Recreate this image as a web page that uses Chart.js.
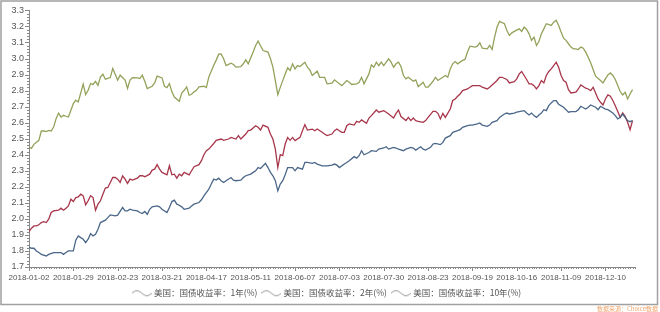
<!DOCTYPE html>
<html>
<head>
<meta charset="utf-8">
<script src="https://cdn.jsdelivr.net/npm/chart.js@4/dist/chart.umd.min.js"></script>
<style>
  html, body { margin: 0; padding: 0; background: #fff; }
  #wrap { position: relative; width: 660px; height: 312px; }
  #source { position: absolute; left: 597px; top: 304px; font: 6px "Noto Sans CJK SC", sans-serif; color: #f2a46a; white-space: nowrap; }
</style>
</head>
<body>
<div id="wrap">
  <canvas id="yieldChart" width="660" height="312"></canvas>
  <div id="source">数据来源：Choice数据</div>
</div>
<script>
// trading-day index (0 = 2018-01-02), one label every 18 days
const tickLabels = ["2018-01-02", "2018-01-29", "2018-02-23", "2018-03-21", "2018-04-17", "2018-05-11", "2018-06-07",
  "2018-07-03", "2018-07-30", "2018-08-23", "2018-09-19", "2018-10-16", "2018-11-09", "2018-12-10"];
const lastDay = 246;

const seriesNames = ["美国：国债收益率：1年(%)", "美国：国债收益率：2年(%)", "美国：国债收益率：10年(%)"];

// 1 year
const days1y = [0,1,2,3,4,5,7,8,10,11,13,14,15,16,18,19,20,21,22,23,24,25,26,27,28,29,31,32,33,35,36,38,39,40,41,42,44,45,46,47,48,49,50,52,53,54,56,57,58,59,60,61,62,63,65,66,67,69,70,71,73,74,75,76,77,78,79,80,82,83,84,86,87,88,90,91,92,93,94,96,97,98,99,100,101,102,103,104,105,107,108,109,111,112,113,115,116,117,119,120,121,123,124,125,126,128,129,130,132,133,134,135,136,138,139,141,142,144,145,146,148,149,150,152,153,155,156,157,159,160,161,163,164,165,167,168,169,171,172,174,175,176,178,179,180,182,183,184,186,187,188,190,191,193,194,195,197,198,199,201,202,203,204,205,206,207,208,209,210,211,212,213,214,215,217,218,219,220,222,223,224,226,227,228,230,231,232,234,235,237,238,239,240,241,242,243,244,245];
const yield1y = [1.825,1.817,1.817,1.80,1.79,1.779,1.769,1.779,1.79,1.79,1.79,1.779,1.79,1.80,1.80,1.867,1.894,1.883,1.873,1.852,1.873,1.908,1.894,1.904,1.935,1.977,1.992,2.008,2.025,2.019,2.023,2.071,2.05,2.05,2.06,2.054,2.05,2.04,2.033,2.046,2.029,2.06,2.075,2.081,2.075,2.06,2.04,2.071,2.108,2.117,2.092,2.085,2.075,2.06,2.067,2.081,2.092,2.102,2.119,2.144,2.185,2.217,2.248,2.242,2.254,2.238,2.227,2.238,2.258,2.242,2.238,2.242,2.258,2.269,2.279,2.29,2.30,2.32,2.314,2.346,2.32,2.29,2.269,2.238,2.175,2.217,2.238,2.275,2.32,2.32,2.30,2.32,2.31,2.352,2.352,2.346,2.352,2.342,2.331,2.331,2.331,2.335,2.342,2.335,2.32,2.342,2.352,2.363,2.388,2.379,2.394,2.425,2.40,2.414,2.425,2.421,2.435,2.442,2.45,2.435,2.446,2.442,2.435,2.425,2.435,2.446,2.442,2.429,2.45,2.435,2.429,2.446,2.467,2.471,2.463,2.477,2.504,2.519,2.54,2.55,2.556,2.571,2.581,2.585,2.585,2.592,2.598,2.585,2.577,2.585,2.602,2.613,2.633,2.654,2.66,2.654,2.66,2.665,2.669,2.675,2.66,2.648,2.66,2.644,2.633,2.648,2.66,2.681,2.675,2.706,2.723,2.738,2.738,2.715,2.696,2.681,2.665,2.669,2.669,2.681,2.702,2.685,2.696,2.71,2.696,2.681,2.702,2.685,2.681,2.66,2.644,2.623,2.633,2.654,2.633,2.613,2.606,2.613];

// 2 year
const days2y = [0,1,2,3,4,5,6,7,8,9,10,12,13,14,15,16,17,18,19,20,21,22,23,24,25,26,27,28,29,30,31,32,33,34,35,36,37,38,39,40,41,42,43,44,45,46,47,49,50,51,52,53,54,56,57,58,59,60,61,62,63,65,66,67,69,70,71,72,73,75,76,78,79,81,82,84,85,86,88,89,90,92,93,94,95,97,98,99,100,101,102,103,104,105,106,107,108,110,111,112,113,115,116,117,119,120,121,123,124,125,126,127,128,129,130,132,133,134,135,137,138,139,141,142,144,145,146,148,149,150,151,153,154,155,156,157,158,160,161,162,164,165,166,167,168,169,171,172,173,174,175,176,178,179,180,182,183,184,186,187,188,190,191,192,194,195,197,198,199,200,201,202,203,204,205,206,207,208,209,210,211,212,213,214,215,216,217,218,219,220,222,223,224,226,227,228,229,230,231,232,233,234,235,236,237,238,239,240,241,242,243,244,245];
const yield2y = [1.921,1.942,1.956,1.956,1.963,1.977,1.983,1.977,1.998,2.04,2.05,2.054,2.067,2.054,2.067,2.081,2.123,2.108,2.133,2.137,2.154,2.144,2.088,2.113,2.144,2.133,2.054,2.092,2.113,2.154,2.192,2.196,2.227,2.258,2.258,2.248,2.227,2.269,2.248,2.221,2.248,2.242,2.248,2.254,2.269,2.269,2.263,2.279,2.304,2.31,2.338,2.31,2.29,2.275,2.331,2.275,2.279,2.254,2.279,2.269,2.29,2.275,2.30,2.325,2.338,2.363,2.40,2.425,2.435,2.47,2.49,2.498,2.49,2.498,2.508,2.498,2.519,2.498,2.529,2.55,2.554,2.581,2.571,2.554,2.585,2.571,2.529,2.498,2.435,2.32,2.40,2.394,2.467,2.508,2.49,2.508,2.488,2.508,2.55,2.588,2.554,2.56,2.55,2.56,2.54,2.529,2.519,2.529,2.55,2.56,2.55,2.54,2.54,2.581,2.592,2.585,2.608,2.602,2.617,2.596,2.629,2.644,2.679,2.665,2.675,2.665,2.654,2.629,2.658,2.679,2.638,2.613,2.633,2.613,2.629,2.613,2.608,2.602,2.613,2.633,2.671,2.671,2.658,2.623,2.658,2.633,2.685,2.738,2.748,2.765,2.779,2.80,2.81,2.821,2.831,2.831,2.831,2.821,2.81,2.821,2.835,2.863,2.883,2.883,2.869,2.848,2.856,2.873,2.904,2.919,2.894,2.869,2.842,2.842,2.831,2.81,2.831,2.863,2.848,2.894,2.919,2.935,2.956,2.977,2.945,2.894,2.863,2.852,2.806,2.785,2.79,2.81,2.835,2.815,2.81,2.80,2.821,2.785,2.748,2.727,2.71,2.748,2.773,2.765,2.738,2.706,2.669,2.633,2.66,2.639,2.602,2.556,2.613];

// 10 year
const days10y = [0,1,2,4,5,6,7,8,9,10,11,12,13,14,15,16,17,18,19,20,22,23,24,25,26,27,28,29,30,31,33,34,35,36,37,39,40,41,42,44,45,46,47,48,50,51,52,54,55,56,57,58,59,61,62,63,64,65,66,67,68,69,71,72,73,75,76,77,78,79,80,82,83,84,86,87,88,89,91,92,93,94,95,97,98,99,100,101,102,103,104,105,106,107,108,109,110,112,113,114,115,117,118,120,121,123,124,126,127,129,130,131,133,134,135,136,138,139,140,141,142,143,144,145,146,147,148,149,150,151,152,153,154,156,157,158,160,161,162,164,165,166,168,169,170,171,172,173,174,176,177,178,179,181,182,183,184,186,187,188,189,190,191,193,194,195,196,197,199,200,201,202,203,204,205,206,207,208,209,210,212,213,214,215,216,217,218,219,220,221,222,223,224,225,226,227,228,229,230,232,233,234,235,236,237,238,239,240,241,242,243,244,245];
const yield10y = [2.45,2.44,2.465,2.49,2.548,2.548,2.544,2.552,2.548,2.573,2.625,2.66,2.635,2.646,2.64,2.635,2.677,2.719,2.74,2.729,2.84,2.775,2.802,2.844,2.838,2.858,2.833,2.885,2.902,2.871,2.881,2.938,2.902,2.865,2.896,2.865,2.813,2.865,2.881,2.879,2.875,2.896,2.858,2.813,2.827,2.848,2.89,2.879,2.827,2.819,2.844,2.792,2.76,2.733,2.785,2.802,2.823,2.771,2.777,2.792,2.802,2.823,2.827,2.819,2.885,2.958,2.99,3.027,3.029,2.998,2.956,2.971,2.963,2.946,2.95,2.967,2.992,2.967,3.04,3.081,3.108,3.08,3.05,3.04,3.00,2.946,2.862,2.775,2.82,2.862,2.904,2.942,2.925,2.967,2.935,2.956,2.95,2.977,2.946,2.929,2.894,2.921,2.883,2.883,2.842,2.846,2.867,2.842,2.831,2.863,2.852,2.838,2.842,2.852,2.883,2.842,2.904,2.96,2.946,2.977,2.956,2.977,2.956,2.977,2.998,2.977,2.946,2.967,2.977,2.95,2.894,2.873,2.883,2.858,2.867,2.825,2.852,2.821,2.821,2.858,2.883,2.863,2.883,2.894,2.883,2.935,2.967,2.981,2.967,2.988,2.994,3.04,3.077,3.071,3.077,3.098,3.064,3.06,3.081,3.056,3.133,3.196,3.231,3.217,3.175,3.144,3.16,3.169,3.185,3.169,3.196,3.181,3.154,3.113,3.133,3.081,3.106,3.154,3.185,3.217,3.206,3.227,3.238,3.206,3.165,3.127,3.113,3.092,3.071,3.06,3.06,3.056,3.071,3.064,3.04,3.008,2.973,2.931,2.89,2.863,2.848,2.873,2.898,2.91,2.894,2.869,2.831,2.794,2.773,2.79,2.748,2.779,2.806];

const lineColors = ["#4a6688", "#a8364b", "#92a25a"];

function toPoints(days, values) {
    return days.map((d, i) => ({ x: d, y: values[i] }));
}

// small wavy icon used in the legend
function waveIcon() {
    const c = document.createElement("canvas");
    c.width = 20;
    c.height = 8;
    const g = c.getContext("2d");
    g.strokeStyle = "#9a9a9a";
    g.lineWidth = 1;
    g.beginPath();
    for (let t = 0; t <= 20; t++) {
        const yy = 4 - 2.5 * Math.sin((t / 20) * Math.PI * 2);
        if (t === 0) g.moveTo(t, yy); else g.lineTo(t, yy);
    }
    g.stroke();
    return c;
}
const wave = waveIcon();

// white page and grey frame
const frame = {
    id: "frame",
    beforeDraw(chart) {
        const ctx = chart.ctx;
        ctx.save();
        ctx.fillStyle = "#fff";
        ctx.fillRect(0, 0, chart.width, chart.height);
        ctx.strokeStyle = "#a0a0a0";
        ctx.lineWidth = 1.5;
        ctx.strokeRect(1, 1, 656.5, 303.5);
        ctx.restore();
    }
};

// legend sits centred under the plot, a bit right of the canvas centre
const legendShift = {
    id: "legendShift",
    afterLayout(chart) {
        chart.legend.left += 10;
        chart.legend.right += 10;
    }
};

// comb of minor / major tick marks on both axes
const axisTicks = {
    id: "axisTicks",
    afterDraw(chart) {
        const { ctx, scales: { x, y } } = chart;
        ctx.save();
        ctx.strokeStyle = "#888";
        ctx.lineWidth = 1;
        ctx.beginPath();
        for (let i = 0; i <= lastDay; i++) {
            const px = Math.round(x.getPixelForValue(i)) + 0.5;
            const len = i % 18 === 0 ? 4 : 2;
            ctx.moveTo(px, y.bottom);
            ctx.lineTo(px, y.bottom + len);
        }
        for (let k = 0; k <= 80; k++) {
            const py = Math.round(y.getPixelForValue(1.7 + k * 0.02)) + 0.5;
            const len = k % 5 === 0 ? 4 : 2;
            ctx.moveTo(x.left, py);
            ctx.lineTo(x.left - len, py);
        }
        ctx.stroke();
        ctx.restore();
    }
};

const tickFont = { family: "'Liberation Sans', Arial, sans-serif", size: 8 };

new Chart(document.getElementById("yieldChart"), {
    type: "line",
    data: {
        datasets: [
            { label: seriesNames[0], data: toPoints(days1y, yield1y), borderColor: lineColors[0] },
            { label: seriesNames[1], data: toPoints(days2y, yield2y), borderColor: lineColors[1] },
            { label: seriesNames[2], data: toPoints(days10y, yield10y), borderColor: lineColors[2] }
        ]
    },
    options: {
        responsive: false,
        animation: false,
        devicePixelRatio: 1,
        layout: { padding: { left: 0, top: 10, right: 25, bottom: 4.5 } },
        elements: {
            line: { borderWidth: 1.3, tension: 0 },
            point: { radius: 0 }
        },
        scales: {
            x: {
                type: "linear",
                min: 0,
                max: lastDay,
                grid: { display: false, drawTicks: false },
                border: { color: "#888" },
                ticks: {
                    stepSize: 18,
                    autoSkip: false,
                    includeBounds: false,
                    maxRotation: 0,
                    padding: 6,
                    color: "#555",
                    font: tickFont,
                    callback: v => tickLabels[v / 18] || ""
                },
                afterFit: s => { s.height = 16; }
            },
            y: {
                min: 1.7,
                max: 3.3,
                grid: { display: false, drawTicks: false },
                border: { color: "#888" },
                ticks: {
                    stepSize: 0.1,
                    padding: 5,
                    color: "#555",
                    font: { family: tickFont.family, size: 9 },
                    callback: v => v.toFixed(1)
                },
                afterFit: s => { s.width = 29; }
            }
        },
        plugins: {
            tooltip: { enabled: false },
            legend: {
                position: "bottom",
                labels: {
                    usePointStyle: true,
                    pointStyleWidth: 16,
                    padding: 6,
                    color: "#555",
                    font: { family: "'Noto Sans CJK SC', sans-serif", size: 8.5 },
                    generateLabels: chart => chart.data.datasets.map((ds, i) => ({
                        text: ds.label,
                        pointStyle: wave,
                        fillStyle: "transparent",
                        strokeStyle: "transparent",
                        fontColor: "#555",
                        lineWidth: 0,
                        hidden: false,
                        datasetIndex: i
                    }))
                }
            }
        }
    },
    plugins: [frame, legendShift, axisTicks]
});
</script>
</body>
</html>
